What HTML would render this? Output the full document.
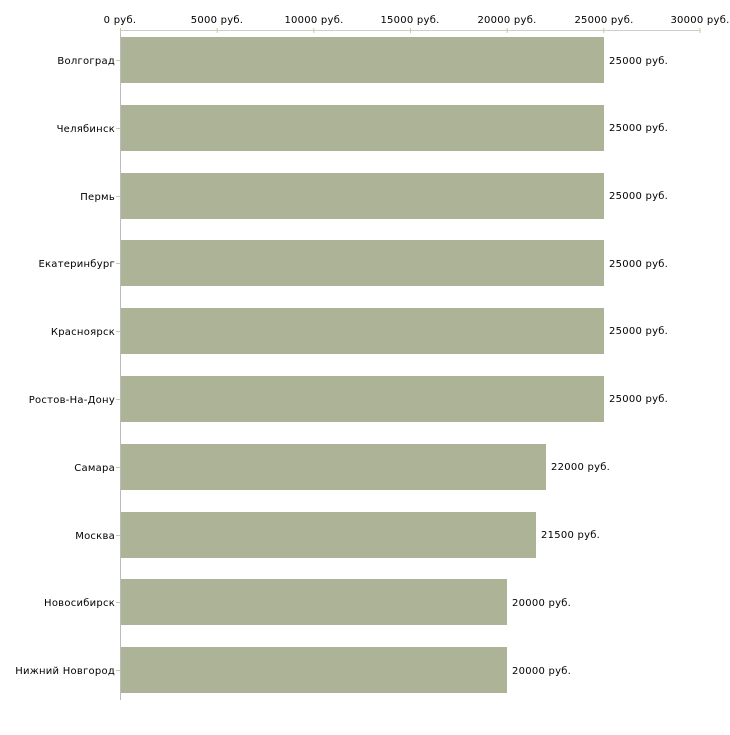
<!DOCTYPE html>
<html><head><meta charset="utf-8"><style>body{margin:0;background:#fff}</style></head><body>
<svg width="730" height="730" xmlns="http://www.w3.org/2000/svg" font-family="DejaVu Sans, Liberation Sans, sans-serif" font-size="10" letter-spacing="0.25" fill="#000">
<line x1="120" y1="30.5" x2="700" y2="30.5" stroke="#ccc"/>
<line x1="120.5" y1="30" x2="120.5" y2="700" stroke="#bbb"/>
<g stroke="#c8cc99">
<line x1="120.5" y1="28" x2="120.5" y2="33"/><line x1="217.2" y1="28" x2="217.2" y2="33"/><line x1="313.8" y1="28" x2="313.8" y2="33"/><line x1="410.5" y1="28" x2="410.5" y2="33"/><line x1="507.2" y1="28" x2="507.2" y2="33"/><line x1="603.8" y1="28" x2="603.8" y2="33"/><line x1="700" y1="28" x2="700" y2="33"/>
</g>
<g text-anchor="middle">
<text x="120" y="23">0 руб.</text><text x="217" y="23">5000 руб.</text><text x="314" y="23">10000 руб.</text><text x="410" y="23">15000 руб.</text><text x="507" y="23">20000 руб.</text><text x="604" y="23">25000 руб.</text><text x="700" y="23">30000 руб.</text>
</g>
<g fill="#adb396">
<rect x="121" y="37" width="483" height="46"/>
<rect x="121" y="105" width="483" height="46"/>
<rect x="121" y="173" width="483" height="46"/>
<rect x="121" y="240" width="483" height="46"/>
<rect x="121" y="308" width="483" height="46"/>
<rect x="121" y="376" width="483" height="46"/>
<rect x="121" y="444" width="425" height="46"/>
<rect x="121" y="512" width="415" height="46"/>
<rect x="121" y="579" width="386" height="46"/>
<rect x="121" y="647" width="386" height="46"/>
</g>
<g stroke="#c8cc99">
<line x1="116" y1="60.5" x2="120" y2="60.5"/><line x1="116" y1="128.5" x2="120" y2="128.5"/><line x1="116" y1="196.5" x2="120" y2="196.5"/><line x1="116" y1="263.5" x2="120" y2="263.5"/><line x1="116" y1="331.5" x2="120" y2="331.5"/><line x1="116" y1="399.5" x2="120" y2="399.5"/><line x1="116" y1="467.5" x2="120" y2="467.5"/><line x1="116" y1="535.5" x2="120" y2="535.5"/><line x1="116" y1="602.5" x2="120" y2="602.5"/><line x1="116" y1="670.5" x2="120" y2="670.5"/>
</g>
<g text-anchor="end">
<text x="115" y="64">Волгоград</text><text x="115" y="132">Челябинск</text><text x="115" y="200">Пермь</text><text x="115" y="267">Екатеринбург</text><text x="115" y="335">Красноярск</text><text x="115" y="403">Ростов-На-Дону</text><text x="115" y="471">Самара</text><text x="115" y="539">Москва</text><text x="115" y="606">Новосибирск</text><text x="115" y="674">Нижний Новгород</text>
</g>
<g>
<text x="609" y="64">25000 руб.</text><text x="609" y="131">25000 руб.</text><text x="609" y="199">25000 руб.</text><text x="609" y="267">25000 руб.</text><text x="609" y="334">25000 руб.</text><text x="609" y="402">25000 руб.</text><text x="551" y="470">22000 руб.</text><text x="541" y="538">21500 руб.</text><text x="512" y="606">20000 руб.</text><text x="512" y="674">20000 руб.</text>
</g>
</svg>
</body></html>
